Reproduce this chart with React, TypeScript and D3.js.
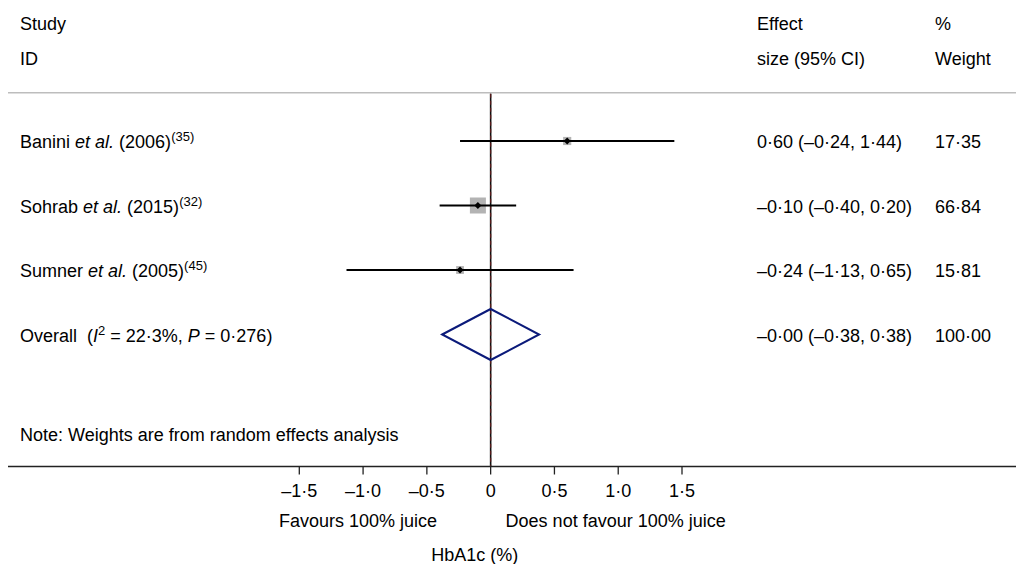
import React from "react";
import * as d3 from "d3";

const studyNames = ["Banini", "Sohrab", "Sumner"];
const studyYears = ["2006", "2015", "2005"];
const studyRefs = ["35", "32", "45"];
const effects = [0.6, -0.1, -0.24];
const lowerCI = [-0.24, -0.4, -1.13];
const upperCI = [1.44, 0.2, 0.65];
const weights = [17.35, 66.84, 15.81];
const effectLabels = ["0·60 (–0·24, 1·44)", "–0·10 (–0·40, 0·20)", "–0·24 (–1·13, 0·65)"];
const weightLabels = ["17·35", "66·84", "15·81"];

const overallEffect = 0.0;
const overallLower = -0.38;
const overallUpper = 0.38;
const overallEffectLabel = "–0·00 (–0·38, 0·38)";
const overallWeightLabel = "100·00";

const tickValues = [-1.5, -1.0, -0.5, 0, 0.5, 1.0, 1.5];
const tickLabels = ["–1·5", "–1·0", "–0·5", "0", "0·5", "1·0", "1·5"];

const FONT = "'Liberation Sans', Arial, Helvetica, sans-serif";

export default function App() {
  const W = 1016;
  const H = 564;
  const x = d3.scaleLinear().domain([-1.5, 1.5]).range([299.3, 682]);
  const rowY = d3.scaleLinear().domain([0, 1]).range([141, 205.5]); // marker centers
  const baseOff = 7.3;
  const maxW = d3.max(weights) as number;
  const side = d3.scaleSqrt().domain([0, maxW]).range([0, 16]);

  const axisY = 466.5;
  const topLineY = 92.7;
  const colEffect = 757;
  const colWeight = 935;
  const textX = 20;
  const fs = 18;

  const oy = rowY(3);
  const diamondPath = `M${x(overallLower)},${oy} L${x(overallEffect)},${oy - 25.5} L${x(overallUpper)},${oy} L${x(overallEffect)},${oy + 25.5} Z`;

  return (
    <svg
      width={W}
      height={H}
      style={{ position: "absolute", left: 0, top: 0, background: "#fff" }}
      fontFamily={FONT}
      fontSize={fs}
    >
      <rect x={0} y={0} width={W} height={H} fill="#fff" />
      {/* Headers */}
      <text x={textX} y={30}>Study</text>
      <text x={textX} y={65}>ID</text>
      <text x={colEffect} y={30}>Effect</text>
      <text x={colEffect} y={65}>size (95% CI)</text>
      <text x={colWeight} y={30}>%</text>
      <text x={colWeight} y={65}>Weight</text>
      <line x1={8} x2={W} y1={topLineY} y2={topLineY} stroke="#bdbdbd" strokeWidth={1.5} />

      {/* Null / overall line */}
      <line x1={x(0)} x2={x(0)} y1={topLineY + 1} y2={axisY} stroke="#111" strokeWidth={1.6} />
      <line x1={x(overallEffect)} x2={x(overallEffect)} y1={topLineY + 1} y2={axisY} stroke="#5e1a1a" strokeWidth={1.1} strokeDasharray="4,3" />

      {/* Studies */}
      {studyNames.map((n, i) => {
        const cy = rowY(i);
        const s = side(weights[i]);
        const bx = x(effects[i]);
        return (
          <g key={n}>
            <rect x={bx - s / 2} y={cy - s / 2} width={s} height={s} fill="#b3b3b3" />
            <line x1={x(lowerCI[i])} x2={x(upperCI[i])} y1={cy} y2={cy} stroke="#000" strokeWidth={2} />
            <path d={`M${bx - 3.5},${cy} L${bx},${cy - 3.5} L${bx + 3.5},${cy} L${bx},${cy + 3.5} Z`} fill="#000" />
            <text x={textX} y={cy + baseOff} style={{ whiteSpace: "pre" }}>
              {n + " "}
              <tspan fontStyle="italic">et al.</tspan>
              {" (" + studyYears[i] + ")"}
              <tspan fontSize={13} dy={-7}>{"(" + studyRefs[i] + ")"}</tspan>
            </text>
            <text x={colEffect} y={cy + baseOff}>{effectLabels[i]}</text>
            <text x={colWeight} y={cy + baseOff}>{weightLabels[i]}</text>
          </g>
        );
      })}

      {/* Overall */}
      <path d={diamondPath} fill="none" stroke="#0b1a7a" strokeWidth={2} />
      <text x={textX} y={oy + baseOff} style={{ whiteSpace: "pre" }}>
        {"Overall  ("}
        <tspan fontStyle="italic">I</tspan>
        <tspan fontSize={13} dy={-7}>2</tspan>
        <tspan dy={7}>{" = 22·3%, "}</tspan>
        <tspan fontStyle="italic">P</tspan>
        {" = 0·276)"}
      </text>
      <text x={colEffect} y={oy + baseOff}>{overallEffectLabel}</text>
      <text x={colWeight} y={oy + baseOff}>{overallWeightLabel}</text>

      {/* Note */}
      <text x={textX} y={441}>Note: Weights are from random effects analysis</text>

      {/* Axis */}
      <line x1={8} x2={W} y1={axisY} y2={axisY} stroke="#222" strokeWidth={1.5} />
      {tickValues.map((t, i) => (
        <g key={t}>
          <line x1={x(t)} x2={x(t)} y1={axisY} y2={axisY + 8} stroke="#222" strokeWidth={1.3} />
          <text x={x(t)} y={497} textAnchor="middle">{tickLabels[i]}</text>
        </g>
      ))}
      <text x={x(-1.04)} y={527} textAnchor="middle">Favours 100% juice</text>
      <text x={x(0.98)} y={527} textAnchor="middle">Does not favour 100% juice</text>
      <text x={x(-0.125)} y={561} textAnchor="middle">HbA1c (%)</text>
    </svg>
  );
}
